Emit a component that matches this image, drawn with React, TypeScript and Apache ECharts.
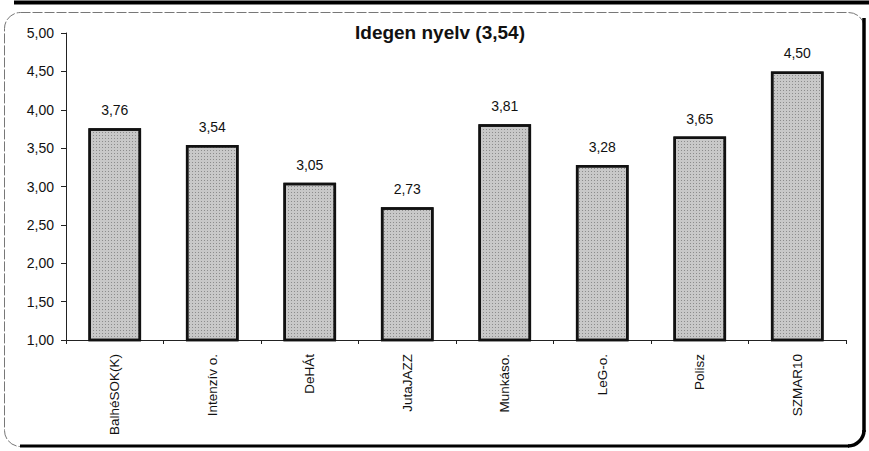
import React, { useEffect, useRef } from "react";
import * as echarts from "echarts";

const categories = ["BalhéSOK(K)", "Intenzív o.", "DeHÁt", "JutaJAZZ", "Munkáso.", "LeG-o.", "Polisz", "SZMAR10"];
const values = [3.76, 3.54, 3.05, 2.73, 3.81, 3.28, 3.65, 4.5];
const titleText = "Idegen nyelv (3,54)";
const yMin = 1;
const yMax = 5;
const yStep = 0.5;

const fmt = (v: number) => v.toFixed(2).replace(".", ",");

export default function App() {
  const ref = useRef<HTMLDivElement>(null);
  useEffect(() => {
    if (!ref.current) return;
    const chart = echarts.init(ref.current, null, { renderer: "svg" });
    const font = "Liberation Sans, Arial, sans-serif";
    chart.setOption({
      animation: false,
      backgroundColor: "#ffffff",
      title: {
        text: titleText,
        left: 435,
        top: 18,
        textAlign: "center",
        textStyle: { fontFamily: font, fontSize: 19, fontWeight: "bold", color: "#111" },
      },
      grid: { left: 66, right: 23, top: 33, bottom: 111, containLabel: false },
      xAxis: {
        type: "category",
        data: categories,
        axisLine: { lineStyle: { color: "#222", width: 1 } },
        axisTick: { show: true, alignWithLabel: false, length: 4, lineStyle: { color: "#222" } },
        axisLabel: { rotate: 90, fontFamily: font, fontSize: 13.5, color: "#111", margin: 14 },
      },
      yAxis: {
        type: "value",
        min: yMin,
        max: yMax,
        interval: yStep,
        axisLine: { show: true, lineStyle: { color: "#222", width: 1 } },
        axisTick: { show: true, length: 5, lineStyle: { color: "#222" } },
        splitLine: { show: false },
        axisLabel: { formatter: (v: number) => fmt(v), fontFamily: font, fontSize: 14, color: "#111", margin: 12 },
      },
      series: [
        {
          type: "bar",
          data: values,
          barWidth: "54%",
          itemStyle: {
            color: "#c8c8c8",
            borderColor: "#111",
            borderWidth: 2.5,
            decal: {
              symbol: "rect",
              symbolSize: 1,
              dashArrayX: [1, 2],
              dashArrayY: [1, 2],
              color: "rgba(50,50,50,0.4)",
              rotation: 0,
            },
          },
          label: {
            show: true,
            position: "top",
            distance: 11,
            formatter: (p: any) => fmt(p.value),
            fontFamily: font,
            fontSize: 14,
            color: "#111",
          },
        },
      ],
      graphic: [
        {
          type: "rect",
          shape: { x: 4.5, y: 12.5, width: 860, height: 434, r: 16 },
          style: { fill: "none", stroke: "#777", lineWidth: 1, lineDash: [10, 2] },
          silent: true,
        },
        {
          type: "line",
          shape: { x1: 864, y1: 18, x2: 864, y2: 432 },
          style: { stroke: "#000", lineWidth: 3.5 },
          silent: true,
        },
        {
          type: "line",
          shape: { x1: 20, y1: 446, x2: 849, y2: 446 },
          style: { stroke: "#000", lineWidth: 3 },
          silent: true,
        },
        {
          type: "arc",
          shape: { cx: 848, cy: 430, r: 16, startAngle: 0, endAngle: Math.PI / 2 },
          style: { stroke: "#000", lineWidth: 3.5, fill: "none" },
          silent: true,
        },
        {
          type: "line",
          shape: { x1: 14, y1: 2.5, x2: 869, y2: 2.5 },
          style: { stroke: "#000", lineWidth: 4 },
          silent: true,
        },
      ],
    });
    return () => chart.dispose();
  }, []);
  return (
    <div
      ref={ref}
      style={{ position: "fixed", left: 0, top: 0, width: 869, height: 451, background: "#fff" }}
    />
  );
}
